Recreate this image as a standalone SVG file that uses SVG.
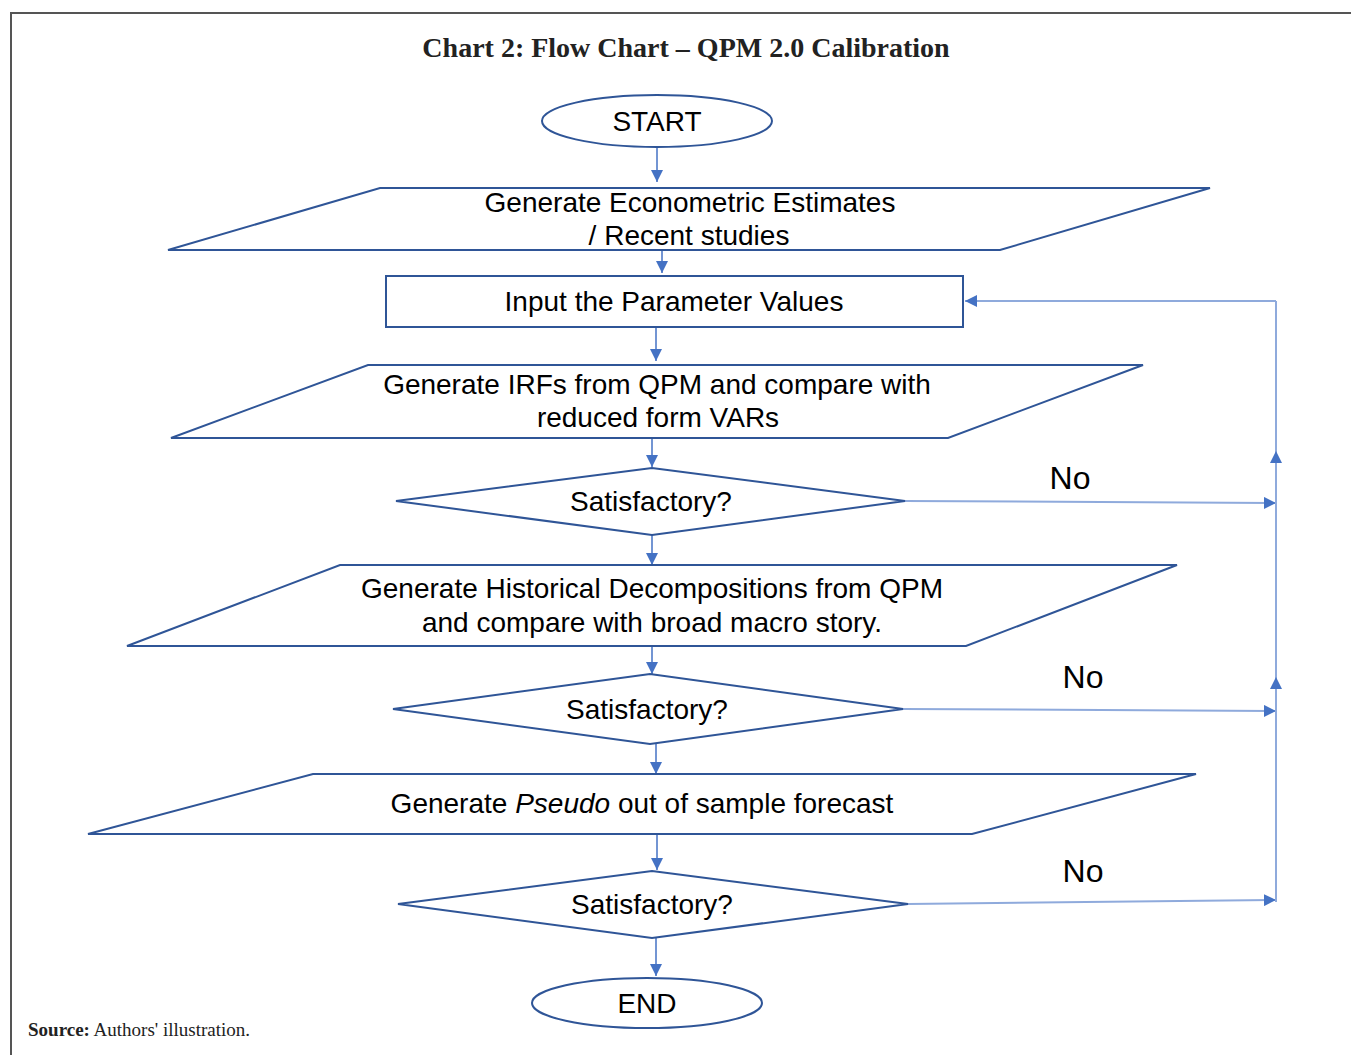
<svg xmlns="http://www.w3.org/2000/svg" width="1351" height="1055" viewBox="0 0 1351 1055">
<style>
.shape{fill:#fff;stroke:#2F5597;stroke-width:2}
.t{font-family:"Liberation Sans",Arial,sans-serif;font-size:28px;fill:#000;text-anchor:middle}
.no{font-family:"Liberation Sans",Arial,sans-serif;font-size:32px;fill:#000;text-anchor:middle}
.c{stroke:#4472C4;stroke-width:1.5;fill:none}
.l{stroke:#8FAADC;stroke-width:2;fill:none}
.ah{fill:#4472C4}
</style>
<defs>
<marker id="arr" viewBox="0 0 10 10" refX="10" refY="5" markerWidth="12" markerHeight="12" markerUnits="userSpaceOnUse" orient="auto">
<path d="M0,0 L10,5 L0,10 z" class="ah"/>
</marker>
<marker id="arr2" viewBox="0 0 10 10" refX="10" refY="5" markerWidth="12" markerHeight="12" markerUnits="userSpaceOnUse" orient="auto">
<path d="M0,0 L10,5 L0,10 z" class="ah"/>
</marker>
</defs>
<rect width="1351" height="1055" fill="#fff"/>
<path d="M11,1055 V13 H1351" fill="none" stroke="#555" stroke-width="2"/>
<text x="686" y="57" font-family="Liberation Serif,serif" font-weight="bold" font-size="28" text-anchor="middle" fill="#222">Chart 2: Flow Chart – QPM 2.0 Calibration</text>

<g id="connectors">
<line class="c" x1="657" y1="147" x2="657" y2="182" marker-end="url(#arr)"/>
<line class="c" x1="662" y1="237" x2="662" y2="273" marker-end="url(#arr)"/>
<line class="c" x1="656" y1="327" x2="656" y2="361" marker-end="url(#arr)"/>
<line class="c" x1="652" y1="438" x2="652" y2="467" marker-end="url(#arr)"/>
<line class="c" x1="652" y1="535" x2="652" y2="565" marker-end="url(#arr)"/>
<line class="c" x1="652" y1="646" x2="652" y2="674" marker-end="url(#arr)"/>
<line class="c" x1="656" y1="744" x2="656" y2="774" marker-end="url(#arr)"/>
<line class="c" x1="657" y1="834" x2="657" y2="870" marker-end="url(#arr)"/>
<line class="c" x1="656" y1="938" x2="656" y2="976" marker-end="url(#arr)"/>
<line class="l" x1="905" y1="501" x2="1276" y2="503" marker-end="url(#arr2)"/>
<line class="l" x1="903" y1="709" x2="1276" y2="711" marker-end="url(#arr2)"/>
<line class="l" x1="908" y1="904" x2="1276" y2="900" marker-end="url(#arr2)"/>
<line class="l" x1="1276" y1="902" x2="1276" y2="301"/>
<line class="l" x1="1276" y1="690" x2="1276" y2="677" marker-end="url(#arr2)"/>
<line class="l" x1="1276" y1="465" x2="1276" y2="451" marker-end="url(#arr2)"/>
<line class="l" x1="1276" y1="301" x2="965" y2="301" marker-end="url(#arr2)"/>
<text class="no" x="1070" y="489">No</text>
<text class="no" x="1083" y="688">No</text>
<text class="no" x="1083" y="882">No</text>
</g>

<g id="start">
<ellipse class="shape" cx="657" cy="121" rx="115" ry="26"/>
<text class="t" x="657" y="131">START</text>
</g>
<g id="estimates">
<polygon class="shape" points="380,188 1210,188 1000,250 168,250"/>
<text class="t" x="690" y="212">Generate Econometric Estimates</text>
<text class="t" x="689" y="245">/ Recent studies</text>
</g>
<g id="input">
<rect class="shape" x="386" y="276" width="577" height="51"/>
<text class="t" x="674" y="311">Input the Parameter Values</text>
</g>
<g id="irfs">
<polygon class="shape" points="368,365 1143,365 948,438 171,438"/>
<text class="t" x="657" y="394">Generate IRFs from QPM and compare with</text>
<text class="t" x="658" y="427">reduced form VARs</text>
</g>
<g id="sat1">
<polygon class="shape" points="396,501 652,468 905,501 652,535"/>
<text class="t" x="651" y="511">Satisfactory?</text>
</g>
<g id="hist">
<polygon class="shape" points="340,565 1177,565 966,646 127,646"/>
<text class="t" x="652" y="598">Generate Historical Decompositions from QPM</text>
<text class="t" x="652" y="632">and compare with broad macro story.</text>
</g>
<g id="sat2">
<polygon class="shape" points="393,709 650,674 903,709 650,744"/>
<text class="t" x="647" y="719">Satisfactory?</text>
</g>
<g id="pseudo">
<polygon class="shape" points="313,774 1196,774 972,834 88,834"/>
<text class="t" x="642" y="813">Generate <tspan font-style="italic">Pseudo</tspan> out of sample forecast</text>
</g>
<g id="sat3">
<polygon class="shape" points="398,904 652,871 908,904 652,938"/>
<text class="t" x="652" y="914">Satisfactory?</text>
</g>
<g id="end">
<ellipse class="shape" cx="647" cy="1003" rx="115" ry="25"/>
<text class="t" x="647" y="1013">END</text>
</g>
<text x="28" y="1036" font-family="Liberation Serif,serif" font-size="19" fill="#222"><tspan font-weight="bold">Source:</tspan> Authors' illustration.</text>
</svg>
